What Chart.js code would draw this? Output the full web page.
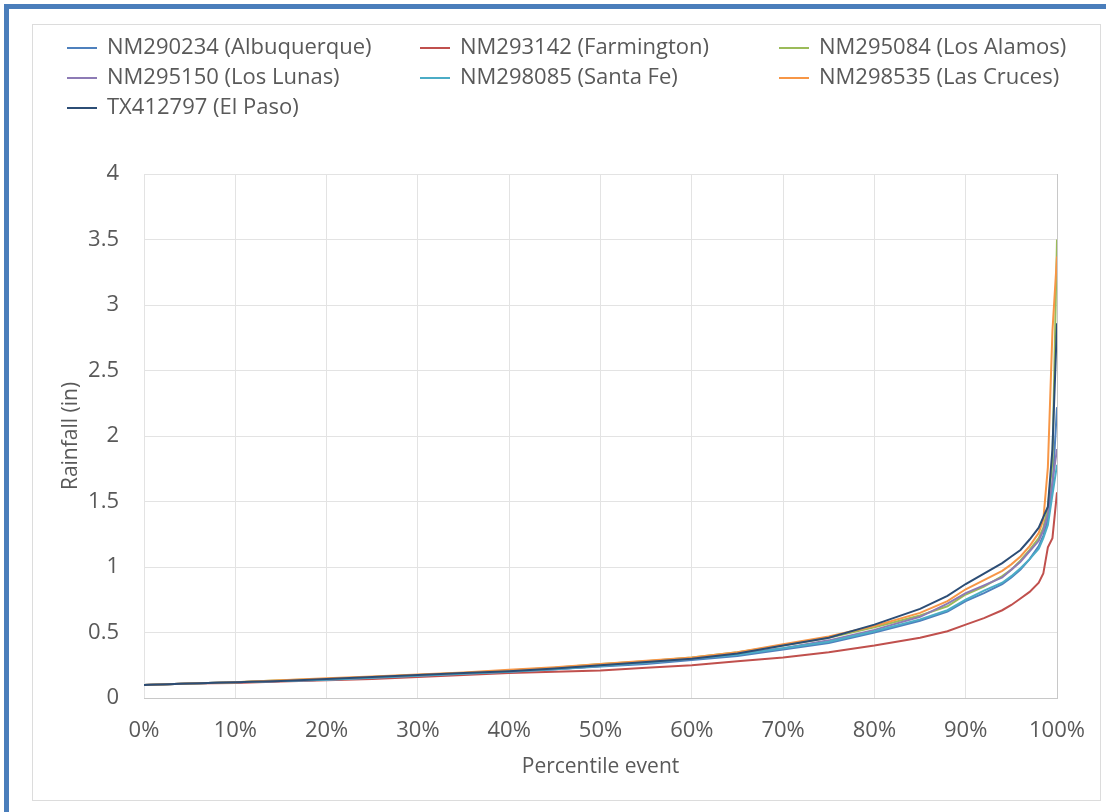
<!DOCTYPE html>
<html>
<head>
<meta charset="utf-8">
<script src="https://cdn.jsdelivr.net/npm/chart.js@4.4.1/dist/chart.umd.min.js"></script>
<style>
  html, body { margin: 0; padding: 0; background: #fff; }
  canvas { display: block; }
</style>
</head>
<body>
<canvas id="rainfall" width="1106" height="812"></canvas>
<script>
// percentile of event (0..1) shared by every station
const percentiles = [0, 0.05, 0.1, 0.15, 0.2, 0.25, 0.3, 0.35, 0.4, 0.45, 0.5, 0.55, 0.6, 0.65, 0.7, 0.75,
    0.8, 0.85, 0.88, 0.9, 0.92, 0.94, 0.95, 0.96, 0.97, 0.98, 0.985, 0.99, 0.995, 1];

// rainfall (in) per station
const albuquerque = [0.10, 0.11, 0.12, 0.13, 0.14, 0.155, 0.17, 0.185, 0.20, 0.22, 0.24, 0.26, 0.29, 0.32, 0.37, 0.42,
    0.50, 0.59, 0.66, 0.74, 0.80, 0.87, 0.92, 0.98, 1.06, 1.16, 1.24, 1.36, 1.60, 2.22];
const farmington = [0.10, 0.11, 0.115, 0.125, 0.135, 0.145, 0.16, 0.175, 0.19, 0.20, 0.21, 0.23, 0.25, 0.28, 0.31, 0.35,
    0.40, 0.46, 0.51, 0.56, 0.61, 0.67, 0.71, 0.76, 0.81, 0.88, 0.95, 1.15, 1.22, 1.57];
const losAlamos = [0.10, 0.11, 0.12, 0.135, 0.145, 0.16, 0.175, 0.19, 0.21, 0.23, 0.26, 0.28, 0.31, 0.35, 0.40, 0.46,
    0.54, 0.63, 0.70, 0.79, 0.85, 0.93, 0.98, 1.05, 1.13, 1.22, 1.30, 1.45, 1.80, 3.50];
const losLunas = [0.10, 0.11, 0.12, 0.13, 0.14, 0.155, 0.17, 0.185, 0.20, 0.22, 0.245, 0.27, 0.30, 0.34, 0.38, 0.44,
    0.52, 0.62, 0.72, 0.80, 0.86, 0.92, 0.98, 1.04, 1.12, 1.20, 1.28, 1.40, 1.65, 1.90];
const santaFe = [0.10, 0.11, 0.12, 0.13, 0.14, 0.155, 0.17, 0.185, 0.20, 0.22, 0.245, 0.27, 0.30, 0.33, 0.38, 0.43,
    0.51, 0.60, 0.67, 0.75, 0.82, 0.88, 0.93, 0.99, 1.06, 1.14, 1.22, 1.32, 1.55, 1.78];
const lasCruces = [0.10, 0.11, 0.12, 0.135, 0.15, 0.165, 0.18, 0.195, 0.215, 0.235, 0.26, 0.285, 0.31, 0.35, 0.41, 0.47,
    0.55, 0.65, 0.74, 0.83, 0.90, 0.97, 1.02, 1.08, 1.16, 1.26, 1.36, 1.76, 2.80, 3.37];
const elPaso = [0.10, 0.11, 0.12, 0.13, 0.145, 0.16, 0.175, 0.19, 0.205, 0.225, 0.25, 0.275, 0.30, 0.34, 0.40, 0.46,
    0.56, 0.68, 0.78, 0.87, 0.95, 1.03, 1.08, 1.13, 1.21, 1.30, 1.38, 1.46, 1.90, 2.86];

const stationNames = ['NM290234 (Albuquerque)', 'NM293142 (Farmington)', 'NM295084 (Los Alamos)',
    'NM295150 (Los Lunas)', 'NM298085 (Santa Fe)', 'NM298535 (Las Cruces)', 'TX412797 (El Paso)'];
const stationValues = [albuquerque, farmington, losAlamos, losLunas, santaFe, lasCruces, elPaso];
const stationColors = ['#4f81bd', '#c0504d', '#9bbb59', '#8d7bb5', '#4bacc6', '#f79646', '#2c4d75'];

const xTickLabels = ['0%', '10%', '20%', '30%', '40%', '50%', '60%', '70%', '80%', '90%', '100%'];
const yTickLabels = ['0', '0.5', '1', '1.5', '2', '2.5', '3', '3.5', '4'];

const FONT = "'Open Sans', sans-serif";
const TEXT = '#595959';

// white card, blue frame on the left/top
const background = {
    id: 'background',
    beforeDraw(chart) {
        const ctx = chart.ctx;
        ctx.save();
        ctx.fillStyle = '#fff';
        ctx.fillRect(0, 0, chart.width, chart.height);
        ctx.strokeStyle = '#dcdcdc';
        ctx.lineWidth = 1;
        ctx.strokeRect(32.5, 24.5, 1068, 776);
        ctx.fillStyle = '#4a7ebb';
        ctx.fillRect(4, 4, chart.width - 4, 5);
        ctx.fillRect(4, 4, 5, chart.height - 4);
        ctx.restore();
    }
};

// Excel style legend: three fixed columns
const gridLegend = {
    id: 'gridLegend',
    afterDraw(chart) {
        const ctx = chart.ctx;
        const cols = [67, 420, 779];
        ctx.save();
        ctx.font = '22px ' + FONT;
        ctx.textBaseline = 'middle';
        chart.data.datasets.forEach((ds, i) => {
            const x = cols[i % 3];
            const y = 48 + Math.floor(i / 3) * 30;
            ctx.strokeStyle = ds.borderColor;
            ctx.lineWidth = 2;
            ctx.beginPath();
            ctx.moveTo(x, y);
            ctx.lineTo(x + 30, y);
            ctx.stroke();
            ctx.fillStyle = TEXT;
            ctx.fillText(ds.label, x + 40, y);
        });
        ctx.restore();
    }
};

const datasets = stationNames.map((name, i) => ({
    label: name,
    data: percentiles.map((p, j) => ({ x: p, y: stationValues[i][j] })),
    borderColor: stationColors[i],
    backgroundColor: stationColors[i],
    borderWidth: 2,
    pointRadius: 0,
    tension: 0,
    fill: false,
    order: stationNames.length - i
}));

new Chart(document.getElementById('rainfall').getContext('2d'), {
    type: 'line',
    data: { datasets },
    plugins: [background, gridLegend],
    options: {
        responsive: false,
        animation: false,
        layout: { padding: { left: 32, top: 174, right: 49, bottom: 12 } },
        plugins: {
            legend: { display: false },
            tooltip: { enabled: false }
        },
        scales: {
            x: {
                type: 'linear',
                min: 0,
                max: 1,
                afterFit: (s) => { s.height = 102; },
                afterBuildTicks: (s) => { s.ticks = xTickLabels.map((_, i) => ({ value: i / 10 })); },
                border: { display: true, color: '#c8c8c8' },
                grid: {
                    drawTicks: false,
                    color: (c) => c.index === 10 ? '#c8c8c8' : '#e3e3e3'
                },
                ticks: {
                    padding: 20,
                    color: TEXT,
                    font: { size: 22, family: FONT },
                    callback: (v, i) => xTickLabels[i]
                },
                title: {
                    display: true,
                    text: 'Percentile event',
                    color: TEXT,
                    font: { size: 21, family: FONT },
                    padding: { top: 0, bottom: 20 }
                }
            },
            y: {
                min: 0,
                max: 4,
                afterFit: (s) => { s.width = 112; },
                afterBuildTicks: (s) => { s.ticks = yTickLabels.map((_, i) => ({ value: i / 2 })); },
                border: { display: false },
                grid: {
                    drawTicks: false,
                    color: (c) => c.index === 0 ? '#c8c8c8' : '#e3e3e3'
                },
                ticks: {
                    padding: 25,
                    color: TEXT,
                    font: { size: 22, family: FONT },
                    callback: (v, i) => yTickLabels[i]
                },
                title: {
                    display: true,
                    text: 'Rainfall (in)',
                    color: TEXT,
                    font: { size: 21, family: FONT },
                    padding: { top: 26, bottom: 0 }
                }
            }
        }
    }
});
</script>
</body>
</html>
